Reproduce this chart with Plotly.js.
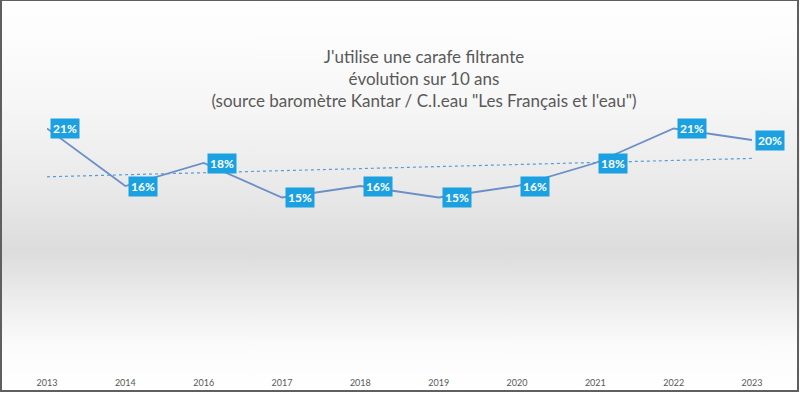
<!DOCTYPE html>
<html>
<head>
<meta charset="utf-8">
<script src="https://cdn.plot.ly/plotly-3.0.1.min.js"></script>
<style>
  html, body { margin: 0; padding: 0; }
  #wrap { position: relative; width: 800px; height: 393px;
    background: linear-gradient(to bottom, #ffffff 0%, #f7f7f7 25%, #e9e9e9 48%, #dcdcdc 64%, #ececec 76%, #fbfbfb 88%, #ffffff 100%); }
  #chart { position: absolute; left: 0; top: 0; width: 800px; height: 393px; }
  #frame { position: absolute; left: 0; top: 0; width: 795px; height: 389px;
    border: 2px solid #5f5f5f; border-top-width: 1px; pointer-events: none; }
</style>
</head>
<body>
<div id="wrap"><div id="chart"></div><div id="frame"></div></div>
<script>
const years = ["2013", "2014", "2016", "2017", "2018", "2019", "2020", "2021", "2022", "2023"];
const values = [21, 16, 18, 15, 16, 15, 16, 18, 21, 20];
const labels = ["21%", "16%", "18%", "15%", "16%", "15%", "16%", "18%", "21%", "20%"];
const trendX = ["2013", "2023"];
const trendY = [16.8, 18.4];

const traces = [
  { x: trendX, y: trendY, type: "scatter", mode: "lines",
    line: { color: "#5b9bd5", width: 1.2, dash: "dot" }, hoverinfo: "skip" },
  { x: years, y: values, type: "scatter", mode: "lines",
    line: { color: "#6b8fc6", width: 1.8 }, hoverinfo: "skip" }
];

// category axis: annotations use the category serial index
const annotations = years.map((yr, i) => ({
  x: years.indexOf(yr), y: values[i], xref: "x", yref: "y", text: labels[i],
  showarrow: false, xanchor: "left", yanchor: "middle", xshift: 3,
  bgcolor: "#1ba1e2", borderpad: 2,
  font: { family: "Lato, 'Open Sans', sans-serif", size: 12, color: "#ffffff", weight: "bold" }
}));

const layout = {
  width: 800, height: 393,
  margin: { l: 47, r: 48, t: 25, b: 23 },
  paper_bgcolor: "rgba(0,0,0,0)", plot_bgcolor: "rgba(0,0,0,0)",
  showlegend: false,
  title: {
    text: "J'utilise une carafe filtrante<br>évolution sur 10 ans<br>(source baromètre Kantar / C.I.eau \"Les Français et l'eau\")",
    font: { family: "Lato, 'Open Sans', sans-serif", size: 17, color: "#595959" },
    x: 0.53, xanchor: "center", y: 0.84, yanchor: "top", yref: "container"
  },
  xaxis: { type: "category", categoryorder: "array", categoryarray: years,
    range: [0, 9], showgrid: false, zeroline: false, showline: false,
    ticks: "", ticklabelstandoff: 6,
    tickfont: { family: "Lato, 'Open Sans', sans-serif", size: 9, color: "#595959" } },
  yaxis: { range: [0, 30], visible: false, showgrid: false, zeroline: false },
  annotations: annotations
};

Plotly.newPlot("chart", traces, layout, { staticPlot: true, displayModeBar: false });
</script>
</body>
</html>
